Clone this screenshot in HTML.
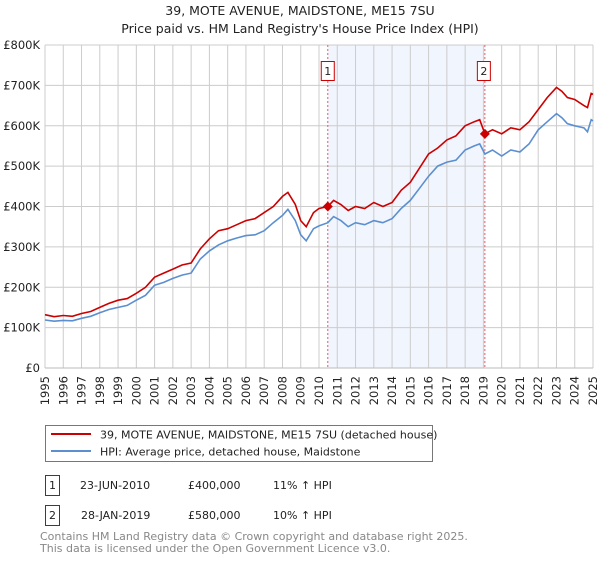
<!DOCTYPE html>
<html><head><meta charset="utf-8"><style>
body{margin:0;background:#fff;font-family:"Liberation Sans","DejaVu Sans",sans-serif;}
svg text{font-family:"DejaVu Sans","Liberation Sans",sans-serif;}
</style></head><body>
<svg width="600" height="560" viewBox="0 0 600 560" xmlns="http://www.w3.org/2000/svg">
<text x="300" y="15" text-anchor="middle" font-size="12.5" fill="#222">39, MOTE AVENUE, MAIDSTONE, ME15 7SU</text>
<text x="300" y="33" text-anchor="middle" font-size="12.5" fill="#222">Price paid vs. HM Land Registry's House Price Index (HPI)</text>
<g id="plot"></g>
<g>
<rect x="45.5" y="425.5" width="387" height="36" fill="#fff" stroke="#777"/>
<line x1="51" y1="434" x2="91" y2="434" stroke="#cc0000" stroke-width="2"/>
<text x="100" y="438.5" font-size="11" fill="#222">39, MOTE AVENUE, MAIDSTONE, ME15 7SU (detached house)</text>
<line x1="51" y1="451" x2="91" y2="451" stroke="#5b8fd0" stroke-width="2"/>
<text x="100" y="455.5" font-size="11" fill="#222">HPI: Average price, detached house, Maidstone</text>
</g>
<g font-size="11" fill="#222">
<rect x="45.5" y="475.5" width="14" height="20" fill="#fff" stroke="#cc0000"/>
<text x="52.5" y="489" text-anchor="middle">1</text>
<text x="80" y="489">23-JUN-2010</text><text x="188" y="489">£400,000</text><text x="273" y="489">11% ↑ HPI</text>
<rect x="45.5" y="505.5" width="14" height="20" fill="#fff" stroke="#cc0000"/>
<text x="52.5" y="519" text-anchor="middle">2</text>
<text x="81" y="519">28-JAN-2019</text><text x="188" y="519">£580,000</text><text x="273" y="519">10% ↑ HPI</text>
</g>
<text x="40" y="540" font-size="11" fill="#888">Contains HM Land Registry data © Crown copyright and database right 2025.</text>
<text x="40" y="552" font-size="11" fill="#888">This data is licensed under the Open Government Licence v3.0.</text>
</svg>
<script>
const yTicks=[0,100000,200000,300000,400000,500000,600000,700000,800000];
const yTickLabels=["£0","£100K","£200K","£300K","£400K","£500K","£600K","£700K","£800K"];
const years=[1995,1996,1997,1998,1999,2000,2001,2002,2003,2004,2005,2006,2007,2008,2009,2010,2011,2012,2013,2014,2015,2016,2017,2018,2019,2020,2021,2022,2023,2024,2025];
const redDates=[1995,1995.5,1996,1996.5,1997,1997.5,1998,1998.5,1999,1999.5,2000,2000.5,2001,2001.5,2002,2002.5,2003,2003.5,2004,2004.5,2005,2005.5,2006,2006.5,2007,2007.5,2008,2008.3,2008.7,2009,2009.3,2009.7,2010,2010.48,2010.8,2011.2,2011.6,2012,2012.5,2013,2013.5,2014,2014.5,2015,2015.5,2016,2016.5,2017,2017.5,2018,2018.5,2018.8,2019.08,2019.5,2020,2020.5,2021,2021.5,2022,2022.5,2023,2023.3,2023.6,2024,2024.5,2024.7,2024.9,2025];
const redValues=[132,127,130,128,135,140,150,160,168,172,185,200,225,235,245,255,260,295,320,340,345,355,365,370,385,400,425,435,405,365,350,385,395,400,415,405,390,400,395,410,400,410,440,460,495,530,545,565,575,600,610,615,580,590,580,595,590,610,640,670,695,685,670,665,650,645,680,678];
const blueDates=[1995,1995.5,1996,1996.5,1997,1997.5,1998,1998.5,1999,1999.5,2000,2000.5,2001,2001.5,2002,2002.5,2003,2003.5,2004,2004.5,2005,2005.5,2006,2006.5,2007,2007.5,2008,2008.3,2008.7,2009,2009.3,2009.7,2010,2010.48,2010.8,2011.2,2011.6,2012,2012.5,2013,2013.5,2014,2014.5,2015,2015.5,2016,2016.5,2017,2017.5,2018,2018.5,2018.8,2019.08,2019.5,2020,2020.5,2021,2021.5,2022,2022.5,2023,2023.3,2023.6,2024,2024.5,2024.7,2024.9,2025];
const blueValues=[119,116,118,117,123,128,137,145,150,155,168,180,205,212,222,230,235,270,290,305,315,322,328,330,340,360,378,393,365,330,315,345,352,360,375,365,350,360,355,365,360,370,395,415,445,475,500,510,515,540,550,555,530,540,525,540,535,555,590,610,630,620,605,600,595,585,615,612];
const sales=[[2010.48,400],[2019.08,580]];
const X0=45,X1=593,Y0=368,Y1=45;
const xs=t=>X0+(t-1995)/(2025-1995)*(X1-X0);
const ys=v=>Y0-v/800000*(Y0-Y1);
const NS="http://www.w3.org/2000/svg";
const g=document.getElementById('plot');
function mk(tag,attrs,parent){const e=document.createElementNS(NS,tag);for(const k in attrs)e.setAttribute(k,attrs[k]);(parent||g).appendChild(e);return e;}
let band=mk('rect',{x:xs(sales[0][0]),y:Y1,width:xs(sales[1][0])-xs(sales[0][0]),height:Y0-Y1,fill:'#eef3fc',opacity:0.8});


yTicks.forEach((v,i)=>{
 const l=mk('line',{x1:X0,x2:X1,y1:ys(v),y2:ys(v),stroke:'#ccc'});
 
 
 const t=mk('text',{x:X0-5,y:ys(v)+4,'text-anchor':'end','font-size':'11.5',fill:'#222'});
 t.textContent=yTickLabels[i];
 
 
});
years.forEach(y=>{
 const l=mk('line',{x1:xs(y),x2:xs(y),y1:Y1,y2:Y0,stroke:'#ccc'});
 
 
 const t=mk('text',{x:0,y:0,'font-size':'11.5',fill:'#222','text-anchor':'end',transform:`translate(${xs(y)+4},${Y0+8}) rotate(-90)`});
 t.textContent=y;
 
 
});
sales.forEach((s,i)=>{
 const l=mk('line',{x1:xs(s[0]),x2:xs(s[0]),y1:Y1,y2:Y0,stroke:'#e06060','stroke-dasharray':'2,2'});
 
 
 const bx=xs(s[0])-(i==0?6:7);
 const r=mk('rect',{x:bx-0.5,y:61.5,width:13,height:19,fill:'#fff',stroke:'#cc0000'});
 
 
 const t=mk('text',{x:bx+6,y:75,'text-anchor':'middle','font-size':'11',fill:'#222'});
 t.textContent=String(i+1);
 
 
});
function path(d,v,color,name){
 const p=mk('path',{d:d.map((t,i)=>(i?'L':'M')+xs(t).toFixed(1)+','+ys(v[i]*1000).toFixed(1)).join(''),fill:'none',stroke:color,'stroke-width':1.6});
 
 
}
path(blueDates,blueValues,'#5b8fd0','hpi-line');
path(redDates,redValues,'#cc0000','property-line');
sales.forEach(s=>{
 const cx=xs(s[0]),cy=ys(s[1]*1000);
 const p=mk('path',{d:`M${cx-5},${cy}L${cx},${cy-5}L${cx+5},${cy}L${cx},${cy+5}Z`,fill:'#cc0000'});
 
 
});
const ax=mk('line',{x1:X0,x2:X1,y1:Y0,y2:Y0,stroke:'#bbb'});


</script>
</body></html>
